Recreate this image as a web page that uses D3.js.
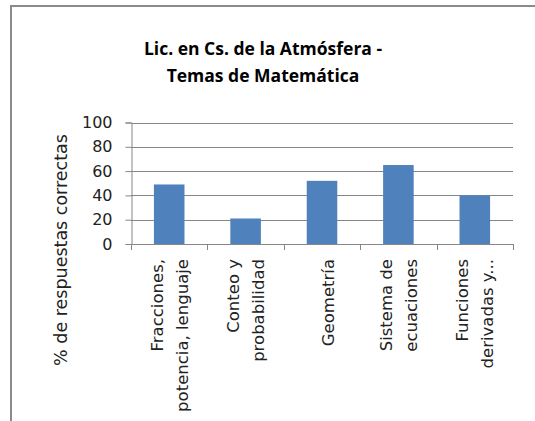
<!DOCTYPE html>
<meta charset="utf-8">
<script src="https://d3js.org/d3.v7.min.js"></script>
<style>
body { margin: 0; background: #fff; }
</style>
<div id="my_dataviz"></div>
<script>

// data
var titleLines = ["Lic. en Cs. de la Atmósfera -", "Temas de Matemática"];
var categories = ["Fracciones, potencia, lenguaje", "Conteo y probabilidad", "Geometría", "Sistema de ecuaciones", "Funciones derivadas y..."];
var labelLines = [["Fracciones,", "potencia, lenguaje"], ["Conteo y", "probabilidad"], ["Geometría"], ["Sistema de", "ecuaciones"], ["Funciones", "derivadas y..."]];
var values = [49, 21, 52, 65, 40];
var yTicks = [0, 20, 40, 60, 80, 100];
var yLabel = "% de respuestas correctas";

var W = 535, H = 421;
var plot = {left: 131, right: 513, top: 122.5, bottom: 244};

var svg = d3.select("#my_dataviz")
  .append("svg")
    .attr("width", W)
    .attr("height", H);

// chart area border (runs off the picture on right and bottom)
svg.append("rect")
  .attr("x", 11)
  .attr("y", 6)
  .attr("width", 600)
  .attr("height", 500)
  .attr("fill", "#fff")
  .attr("stroke", "#8a8a8a")
  .attr("stroke-width", 2);

// title
svg.append("text")
  .attr("x", 263)
  .attr("y", 55)
  .attr("text-anchor", "middle")
  .attr("font-family", "Open Sans")
  .attr("font-weight", "bold")
  .attr("font-size", "17.5px")
  .attr("fill", "#000")
  .selectAll("tspan")
  .data(titleLines)
  .enter()
  .append("tspan")
    .attr("x", 263)
    .attr("dy", function(d, i) { return i ? 27 : 0; })
    .text(function(d) { return d; });

var x = d3.scaleBand()
  .domain(categories)
  .range([plot.left, plot.right])
  .paddingInner(0.6)
  .paddingOuter(0.3);

var y = d3.scaleLinear()
  .domain([0, 100])
  .range([plot.bottom, plot.top]);

// gridlines
svg.append("g")
  .selectAll("line")
  .data(yTicks.filter(function(d) { return d > 0; }))
  .enter()
  .append("line")
    .attr("x1", plot.left)
    .attr("x2", plot.right)
    .attr("y1", function(d) { return Math.round(y(d)) + 0.5; })
    .attr("y2", function(d) { return Math.round(y(d)) + 0.5; })
    .attr("stroke", "#868686")
    .attr("stroke-width", 1);

// bars
svg.append("g")
  .selectAll("rect")
  .data(values)
  .enter()
  .append("rect")
    .attr("x", function(d, i) { return x(categories[i]); })
    .attr("y", function(d) { return y(d); })
    .attr("width", x.bandwidth())
    .attr("height", function(d) { return plot.bottom - y(d); })
    .attr("fill", "#4f81bd");

// y axis
var axisY = svg.append("g")
  .attr("transform", "translate(" + (plot.left + 0.5) + ",0)")
  .call(d3.axisLeft(y).tickValues(yTicks).tickSize(6).tickPadding(13));
axisY.select(".domain").attr("stroke", "#868686");
axisY.selectAll(".tick line").attr("stroke", "#868686");
axisY.selectAll(".tick text")
  .attr("font-family", "DejaVu Sans")
  .attr("font-size", "16px")
  .attr("fill", "#222");

// x axis line and category boundary ticks
var xAxis = svg.append("g");
xAxis.append("line")
  .attr("x1", plot.left)
  .attr("x2", plot.right + 1)
  .attr("y1", Math.round(plot.bottom) + 0.5)
  .attr("y2", Math.round(plot.bottom) + 0.5)
  .attr("stroke", "#868686");
xAxis.selectAll(".btick")
  .data(d3.range(categories.length + 1))
  .enter()
  .append("line")
    .attr("class", "btick")
    .attr("x1", function(i) { return Math.round(plot.left + i * x.step()) + 0.5; })
    .attr("x2", function(i) { return Math.round(plot.left + i * x.step()) + 0.5; })
    .attr("y1", plot.bottom)
    .attr("y2", plot.bottom + 6)
    .attr("stroke", "#868686");

// rotated category labels
var lineGap = 25;
labelLines.forEach(function(lines, i) {
  var cx = x(categories[i]) + x.bandwidth() / 2;
  var n = lines.length;
  lines.forEach(function(t, j) {
    var lx = cx + (j - (n - 1) / 2) * lineGap + (n == 1 ? 6 : 0);
    svg.append("text")
      .attr("transform", "translate(" + lx + ",259) rotate(-90)")
      .attr("text-anchor", "end")
      .attr("dy", "0.36em")
      .attr("font-family", "DejaVu Sans")
      .attr("font-size", "16.5px")
      .attr("fill", "#222")
      .text(t);
  });
});

// y axis title
svg.append("text")
  .attr("transform", "translate(61,250) rotate(-90)")
  .attr("text-anchor", "middle")
  .attr("dy", "0.36em")
  .attr("font-family", "DejaVu Sans")
  .attr("font-size", "17.5px")
  .attr("fill", "#222")
  .text(yLabel);

</script>
